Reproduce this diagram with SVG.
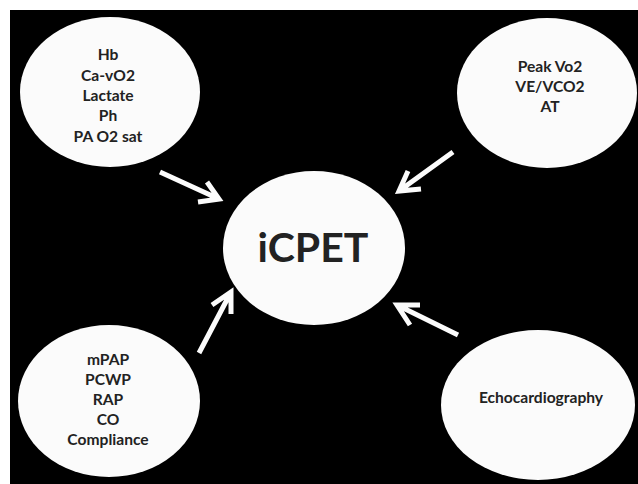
<svg xmlns="http://www.w3.org/2000/svg" width="638" height="484" viewBox="0 0 638 484">
<style>
.bg{fill:#000}
.node{fill:#fbfbfb}
.t{font-family:Lato,"Liberation Sans",sans-serif;font-weight:700;font-size:15.6px;fill:#222;text-anchor:middle}
.big{font-size:41px}
.arrow{fill:none;stroke:#fbfbfb;stroke-width:5;stroke-linejoin:miter;stroke-linecap:butt}
</style>
<rect width="638" height="484" fill="#fff"/>
<rect class="bg" x="10" y="10" width="628" height="474"/>
<g id="node-blood">
<ellipse class="node" cx="110" cy="92" rx="90" ry="75"/>
<text class="t" x="108" y="60">Hb</text>
<text class="t" x="108" y="81">Ca-vO2</text>
<text class="t" x="108" y="101">Lactate</text>
<text class="t" x="108" y="121">Ph</text>
<text class="t" x="108" y="142">PA O2 sat</text>
</g>
<g id="node-cpet">
<ellipse class="node" cx="547" cy="93" rx="90" ry="75"/>
<text class="t" x="550" y="72">Peak Vo2</text>
<text class="t" x="550" y="92">VE/VCO2</text>
<text class="t" x="550" y="112">AT</text>
</g>
<g id="node-hemo">
<ellipse class="node" cx="109" cy="401" rx="91" ry="76"/>
<text class="t" x="108" y="365">mPAP</text>
<text class="t" x="108" y="385">PCWP</text>
<text class="t" x="108" y="405">RAP</text>
<text class="t" x="108" y="425">CO</text>
<text class="t" x="108" y="445">Compliance</text>
</g>
<g id="node-echo">
<ellipse class="node" cx="538" cy="405" rx="97" ry="75"/>
<text class="t" x="541" y="403">Echocardiography</text>
</g>
<g id="node-icpet">
<ellipse class="node" cx="314" cy="248" rx="91" ry="77"/>
<text class="t big" x="313" y="262">iCPET</text>
</g>
<g id="connectors">
<path class="arrow" d="M160,172 L219,199 M207,182 L219,199 L198,202"/>
<path class="arrow" d="M453,152 L399,191 M408,171 L399,191 L421,189"/>
<path class="arrow" d="M199,353 L231,292 M212,305 L231,292 L231,314"/>
<path class="arrow" d="M458,335 L397,305 M420,305 L397,305 L410,325"/>
</g>
</svg>
